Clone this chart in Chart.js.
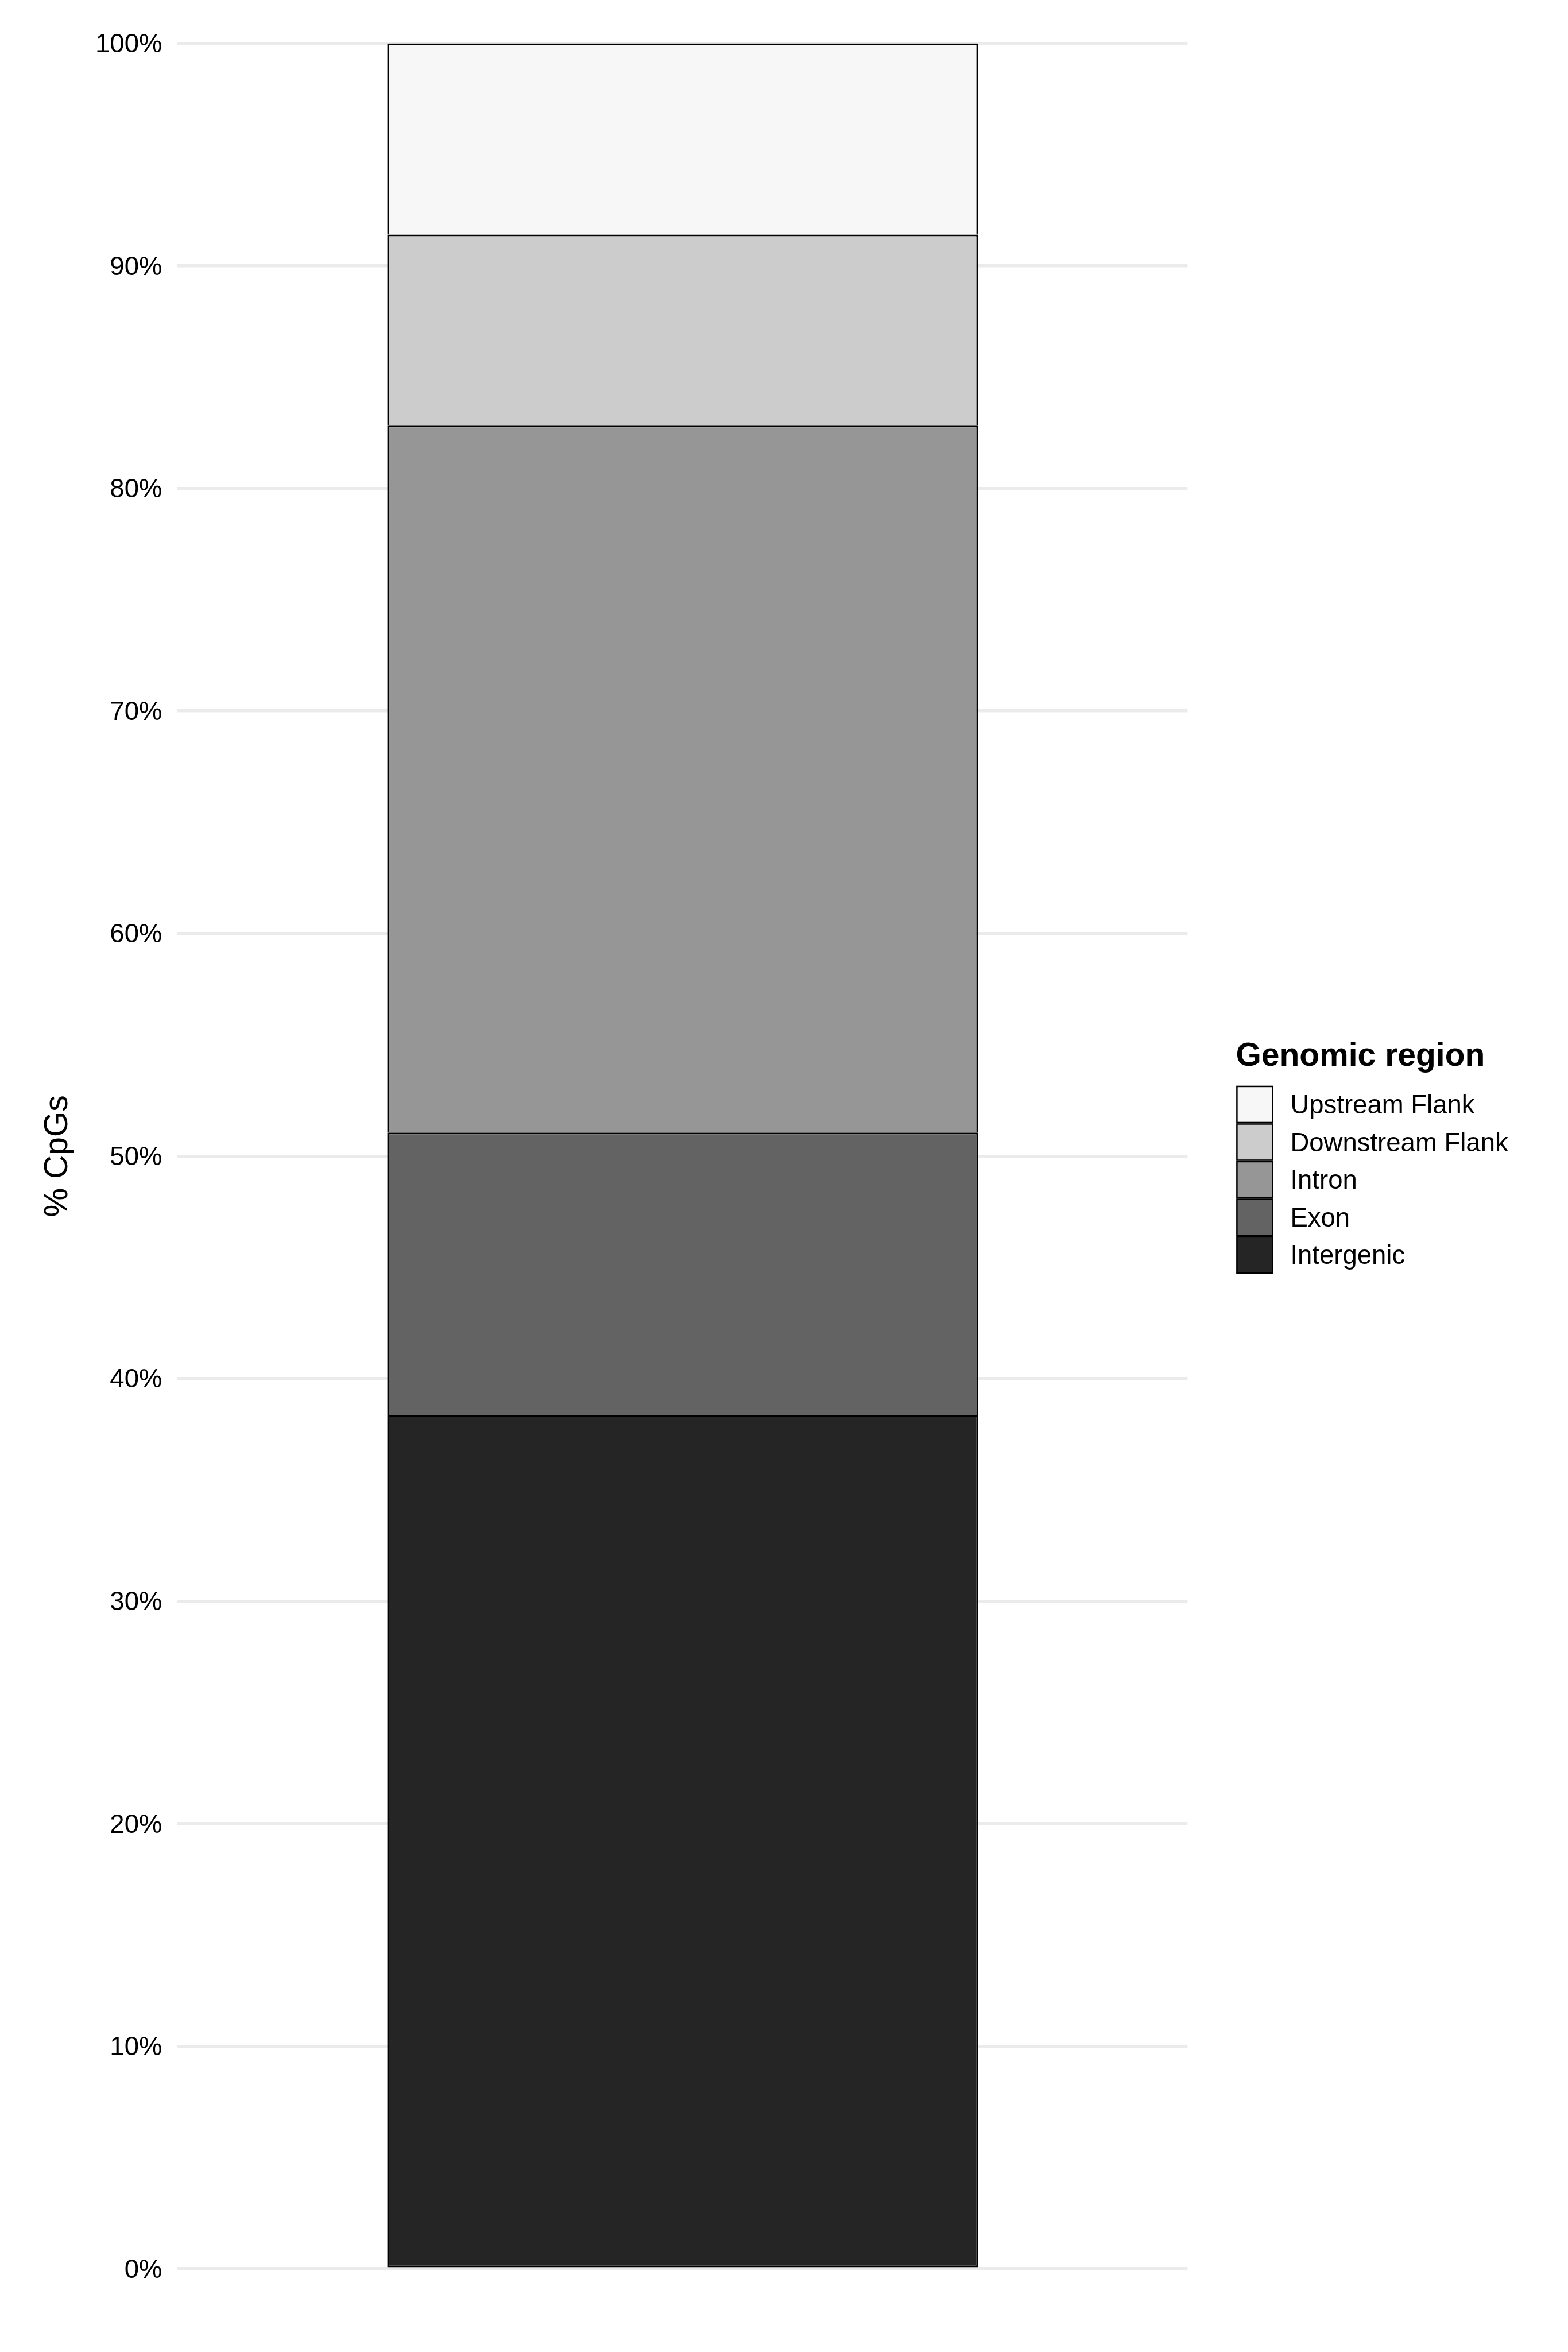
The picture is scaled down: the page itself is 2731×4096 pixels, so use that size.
<!DOCTYPE html>
<html>
<head>
<meta charset="utf-8">
<script src="https://cdn.jsdelivr.net/npm/chart.js@4.4.1/dist/chart.umd.min.js"></script>
<style>
html,body{margin:0;padding:0;background:#ffffff;overflow:hidden}
canvas{display:block}
</style>
</head>
<body>
<canvas id="c" width="2731" height="4096" style="width:2731px;height:4096px"></canvas>
<script>
// ---- data ----
const categories = ['CpGs'];
const regionLabels = ['Intergenic', 'Exon', 'Intron', 'Downstream Flank', 'Upstream Flank'];
const intergenic = [38.36];
const exon = [12.70];
const intron = [31.76];
const downstreamFlank = [8.59];
const upstreamFlank = [8.59];
const regionColors = ['#252525', '#636363', '#969696', '#CCCCCC', '#F7F7F7'];
const yTickValues = [0, 10, 20, 30, 40, 50, 60, 70, 80, 90, 100];
const yTickLabels = ['0%', '10%', '20%', '30%', '40%', '50%', '60%', '70%', '80%', '90%', '100%'];
const yAxisTitle = '% CpGs';
const legendTitle = 'Genomic region';

const FONT = '"Liberation Sans", Arial, Helvetica, sans-serif';
const seriesValues = [intergenic, exon, intron, downstreamFlank, upstreamFlank];

const datasets = regionLabels.map((lab, i) => ({
  label: lab,
  data: seriesValues[i],
  backgroundColor: regionColors[i],
  borderColor: '#000000',
  borderWidth: 3,
  borderSkipped: i === 0 ? false : 'start',
  barPercentage: 0.585,
  categoryPercentage: 1.0,
  stack: 's'
}));

const ggLegend = {
  id: 'ggLegend',
  afterDraw(chart) {
    const {ctx, chartArea} = chart;
    const cy = (chartArea.top + chartArea.bottom) / 2;
    const keyX = chartArea.right + 85;
    const textX = chartArea.right + 179;
    ctx.save();
    ctx.fillStyle = '#000000';
    ctx.font = 'bold 57px ' + FONT;
    ctx.textAlign = 'left';
    ctx.textBaseline = 'alphabetic';
    ctx.fillText(legendTitle, keyX - 1, cy - 157);
    const items = chart.data.datasets.slice().reverse();
    items.forEach((ds, i) => {
      const top = cy - 122.4 + i * 65.5;
      ctx.fillStyle = ds.backgroundColor;
      ctx.fillRect(keyX + 1, top + 1, 62, 63);
      ctx.strokeStyle = '#000000';
      ctx.lineWidth = 2.5;
      ctx.strokeRect(keyX + 1, top + 1, 62, 63);
      ctx.fillStyle = '#000000';
      ctx.font = '45.5px ' + FONT;
      ctx.textBaseline = 'middle';
      ctx.fillText(ds.label, textX, top + 36);
    });
    ctx.restore();
  }
};

new Chart(document.getElementById('c'), {
  type: 'bar',
  data: { labels: categories, datasets: datasets },
  options: {
    responsive: false,
    animation: false,
    devicePixelRatio: 1,
    events: [],
    layout: { padding: { left: 0, top: 75.5, right: 662.6, bottom: 144.8 } },
    plugins: { legend: { display: false }, tooltip: { enabled: false } },
    scales: {
      x: { display: false, stacked: true },
      y: {
        stacked: true,
        min: 0,
        max: 100,
        afterBuildTicks(scale) { scale.ticks = yTickValues.map(v => ({ value: v })); },
        afterFit(scale) { scale.width = 309.4; },
        border: { display: false },
        grid: { color: '#EBEBEB', lineWidth: 5.5, drawTicks: false },
        ticks: {
          color: '#000000',
          padding: 27,
          labelOffset: 3,
          font: { family: FONT, size: 45.5 },
          callback: (v) => yTickLabels[yTickValues.indexOf(v)]
        },
        title: {
          display: true,
          text: yAxisTitle,
          color: '#000000',
          font: { family: FONT, size: 57 },
          padding: { top: 67.5, bottom: 0 }
        }
      }
    }
  },
  plugins: [ggLegend]
});
</script>
</body>
</html>
